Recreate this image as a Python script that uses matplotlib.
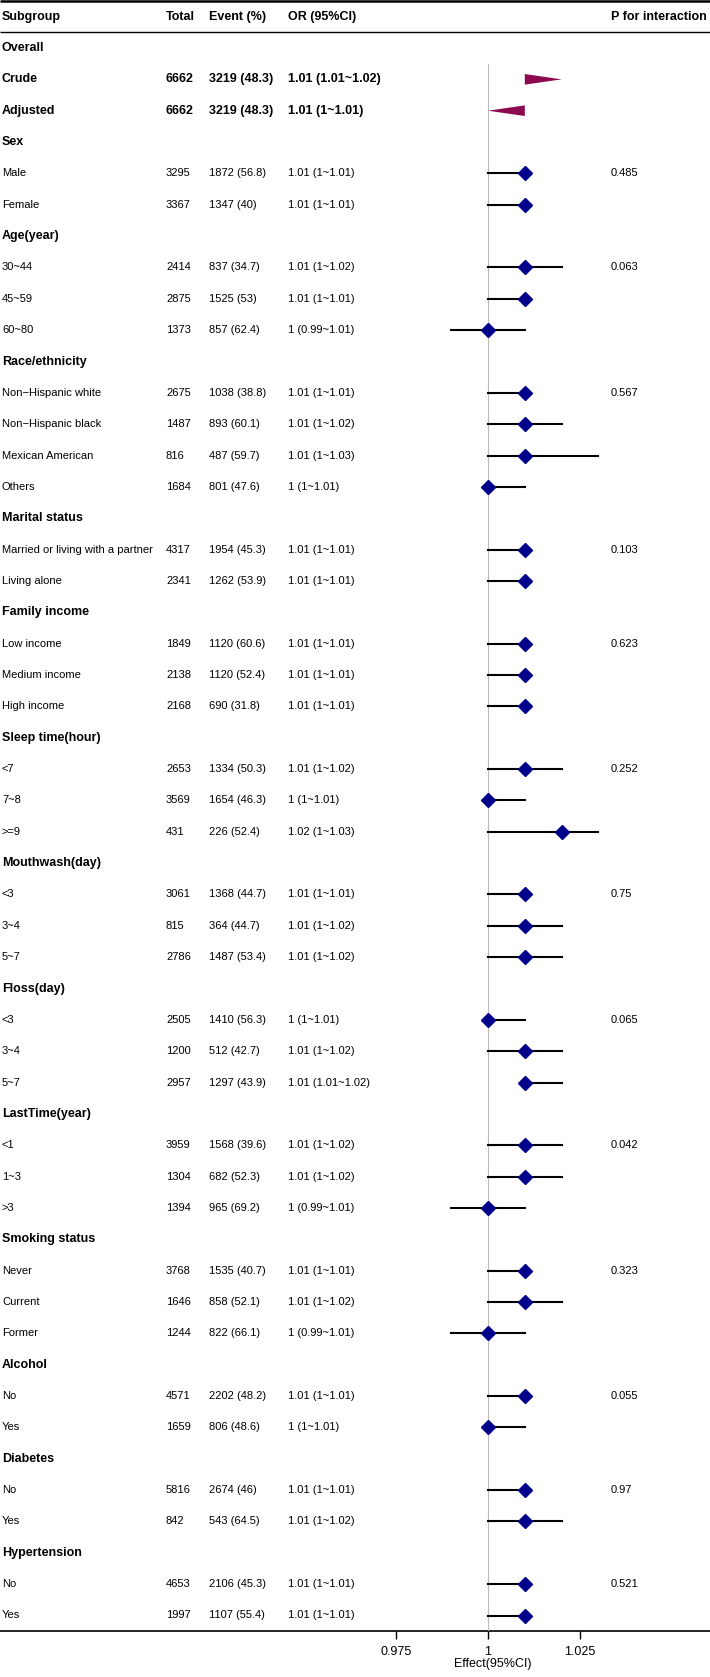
import matplotlib.pyplot as plt

plt.rcParams['font.family'] = ['Liberation Sans', 'DejaVu Sans']

# rows of the table, top to bottom
labels = ["Overall", "Crude", "Adjusted",
          "Sex", "Male", "Female",
          "Age(year)", "30~44", "45~59", "60~80",
          "Race/ethnicity", "Non\u2212Hispanic white", "Non\u2212Hispanic black", "Mexican American", "Others",
          "Marital status", "Married or living with a partner", "Living alone",
          "Family income", "Low income", "Medium income", "High income",
          "Sleep time(hour)", "<7", "7~8", ">=9",
          "Mouthwash(day)", "<3", "3~4", "5~7",
          "Floss(day)", "<3", "3~4", "5~7",
          "LastTime(year)", "<1", "1~3", ">3",
          "Smoking status", "Never", "Current", "Former",
          "Alcohol", "No", "Yes",
          "Diabetes", "No", "Yes",
          "Hypertension", "No", "Yes"]
summary = ["Crude", "Adjusted"]

N = None
total = [N, 6662, 6662,
         N, 3295, 3367,
         N, 2414, 2875, 1373,
         N, 2675, 1487, 816, 1684,
         N, 4317, 2341,
         N, 1849, 2138, 2168,
         N, 2653, 3569, 431,
         N, 3061, 815, 2786,
         N, 2505, 1200, 2957,
         N, 3959, 1304, 1394,
         N, 3768, 1646, 1244,
         N, 4571, 1659,
         N, 5816, 842,
         N, 4653, 1997]
events = [N, 3219, 3219,
          N, 1872, 1347,
          N, 837, 1525, 857,
          N, 1038, 893, 487, 801,
          N, 1954, 1262,
          N, 1120, 1120, 690,
          N, 1334, 1654, 226,
          N, 1368, 364, 1487,
          N, 1410, 512, 1297,
          N, 1568, 682, 965,
          N, 1535, 858, 822,
          N, 2202, 806,
          N, 2674, 543,
          N, 2106, 1107]
pct = [N, 48.3, 48.3,
       N, 56.8, 40,
       N, 34.7, 53, 62.4,
       N, 38.8, 60.1, 59.7, 47.6,
       N, 45.3, 53.9,
       N, 60.6, 52.4, 31.8,
       N, 50.3, 46.3, 52.4,
       N, 44.7, 44.7, 53.4,
       N, 56.3, 42.7, 43.9,
       N, 39.6, 52.3, 69.2,
       N, 40.7, 52.1, 66.1,
       N, 48.2, 48.6,
       N, 46, 64.5,
       N, 45.3, 55.4]
est = [N, 1.01, 1.01,
       N, 1.01, 1.01,
       N, 1.01, 1.01, 1.00,
       N, 1.01, 1.01, 1.01, 1.00,
       N, 1.01, 1.01,
       N, 1.01, 1.01, 1.01,
       N, 1.01, 1.00, 1.02,
       N, 1.01, 1.01, 1.01,
       N, 1.00, 1.01, 1.01,
       N, 1.01, 1.01, 1.00,
       N, 1.01, 1.01, 1.00,
       N, 1.01, 1.00,
       N, 1.01, 1.01,
       N, 1.01, 1.01]
low = [N, 1.01, 1.00,
       N, 1.00, 1.00,
       N, 1.00, 1.00, 0.99,
       N, 1.00, 1.00, 1.00, 1.00,
       N, 1.00, 1.00,
       N, 1.00, 1.00, 1.00,
       N, 1.00, 1.00, 1.00,
       N, 1.00, 1.00, 1.00,
       N, 1.00, 1.00, 1.01,
       N, 1.00, 1.00, 0.99,
       N, 1.00, 1.00, 0.99,
       N, 1.00, 1.00,
       N, 1.00, 1.00,
       N, 1.00, 1.00]
high = [N, 1.02, 1.01,
        N, 1.01, 1.01,
        N, 1.02, 1.01, 1.01,
        N, 1.01, 1.02, 1.03, 1.01,
        N, 1.01, 1.01,
        N, 1.01, 1.01, 1.01,
        N, 1.02, 1.01, 1.03,
        N, 1.01, 1.02, 1.02,
        N, 1.01, 1.02, 1.02,
        N, 1.02, 1.02, 1.01,
        N, 1.01, 1.02, 1.01,
        N, 1.01, 1.01,
        N, 1.01, 1.02,
        N, 1.01, 1.01]
# P for interaction, shown on the first row of each subgroup
p_values = ["0.485", "0.063", "0.567", "0.103", "0.623", "0.252", "0.75",
            "0.065", "0.042", "0.323", "0.055", "0.97", "0.521"]
xticks = [0.975, 1, 1.025]

W, H = 710, 1677
row0, step = 48, 31.35          # pixel centre of first row, row spacing
axis_px = 1631
ref_px, scale = 488, 3680       # pixel of x=1 and pixels per unit
fs, fsb = 8, 9

fig = plt.figure(figsize=(W / 100, H / 100), dpi=100)
tab = fig.add_axes([0, 0, 1, 1])
tab.set_xlim(0, W)
tab.set_ylim(H, 0)
tab.axis('off')

col_sub, col_tot, col_evt, col_or, col_p = 2, 166, 209, 288, 611
hy = 17
for x, t in [(col_sub, "Subgroup"), (col_tot, "Total"), (col_evt, "Event (%)"),
             (col_or, "OR (95%CI)"), (col_p, "P for interaction")]:
    tab.text(x, hy, t, fontsize=fsb, fontweight='bold', va='center', ha='left')
tab.plot([0, W], [1, 1], color='black', lw=1.8, solid_capstyle='butt')
tab.plot([0, W], [32, 32], color='black', lw=1.0, solid_capstyle='butt')
tab.plot([0, W], [axis_px, axis_px], color='black', lw=1.2, solid_capstyle='butt')

pi = 0
for i, lab in enumerate(labels):
    y = row0 + i * step
    bold = total[i] is None or lab in summary
    w = 'bold' if bold else 'normal'
    f = fsb if bold else fs
    tab.text(col_sub, y, lab, fontsize=f, fontweight=w, va='center')
    if total[i] is None:
        continue
    tab.text(col_tot, y, str(total[i]), fontsize=f, fontweight=w, va='center')
    tab.text(col_evt, y, "%d (%g)" % (events[i], pct[i]), fontsize=f, fontweight=w, va='center')
    tab.text(col_or, y, "%g (%g~%g)" % (est[i], low[i], high[i]), fontsize=f, fontweight=w, va='center')
    if i > 2 and total[i - 1] is None:
        tab.text(col_p, y, p_values[pi], fontsize=fs, va='center')
        pi += 1

# forest column
x0, x1 = 380, 605
ax = fig.add_axes([x0 / W, (H - axis_px) / H, (x1 - x0) / W, axis_px / H])
ax.set_xlim(1 + (x0 - ref_px) / scale, 1 + (x1 - ref_px) / scale)
ax.set_ylim((axis_px - row0) / step, -row0 / step)
ax.patch.set_alpha(0)
for s in ax.spines.values():
    s.set_visible(False)
ax.set_yticks([])
ax.set_xticks(xticks)
ax.set_xticklabels(["%g" % t for t in xticks], fontsize=fsb)
ax.tick_params(axis='x', direction='out', length=6, width=1, pad=5)
ax.set_xlabel("Effect(95%CI)", fontsize=fsb, labelpad=0)

ax.plot([1, 1], [0.5, (axis_px - row0) / step], color='#bbbbbb', lw=0.8, zorder=1)

for i, lab in enumerate(labels):
    if est[i] is None:
        continue
    if lab in summary:
        h = 0.17
        ax.fill([low[i], est[i], high[i], est[i]], [i, i - h, i, i + h],
                color='#8B0A50', lw=0, zorder=3)
    else:
        ax.plot([low[i], high[i]], [i, i], color='black', lw=1.5, zorder=2)
        ax.plot(est[i], i, marker='D', color='#00008B', markersize=7, zorder=3)

fig.savefig("out.png", dpi=100)
